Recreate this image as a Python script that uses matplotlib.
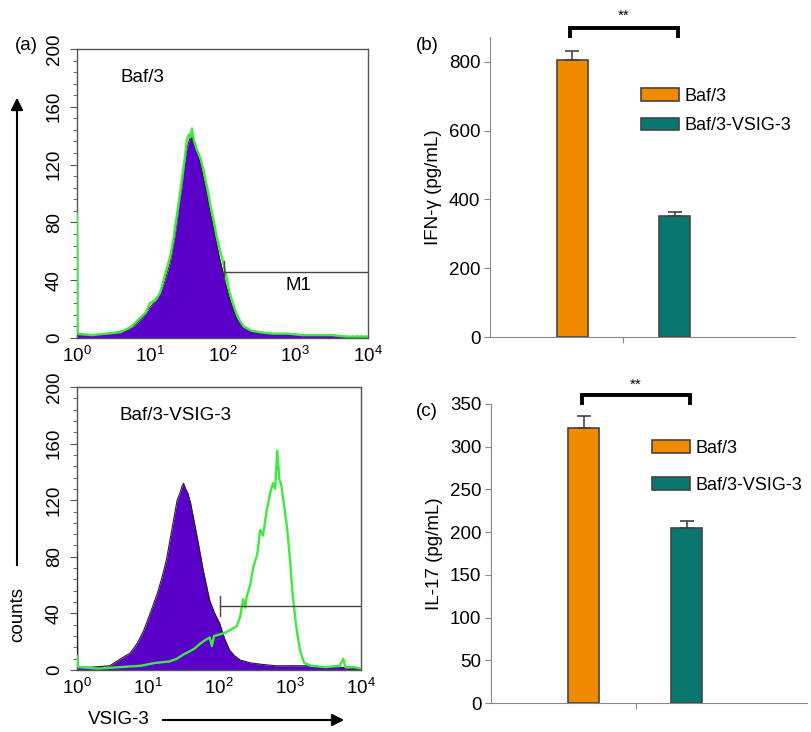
import numpy as np
import matplotlib
matplotlib.use("Agg")
import matplotlib.pyplot as plt
from matplotlib.patches import FancyArrowPatch, Patch

plt.rcParams['font.family'] = ['Liberation Sans', 'DejaVu Sans']

#flow cytometry histograms (log10 of VSIG-3 intensity, counts)
top_purple_log = [0.0, 0.02, 0.2, 0.4, 0.55, 0.7, 0.8, 0.9, 1.0, 1.1, 1.2, 1.28, 1.33, 1.37, 1.41, 1.44,
                  1.48, 1.51, 1.55, 1.58, 1.6, 1.62, 1.66, 1.7, 1.74, 1.78, 1.83, 1.88, 1.92, 1.96, 2.0,
                  2.05, 2.1, 2.15, 2.19, 2.24, 2.29, 2.4, 2.5, 2.7, 2.9, 3.1, 3.3, 3.5, 3.7, 3.9, 4.0]
top_purple_cnt = [2, 2, 2, 3, 4, 6, 9, 14, 21, 27, 38, 52, 66, 78, 95, 104,
                  122, 131, 138, 141, 134, 136, 127, 120, 110, 101, 87, 76, 65, 55, 47,
                  36, 27, 20, 14, 10, 7, 5, 4, 3, 3, 2, 2, 2, 1, 1, 1]

top_green_log = [0.0, 0.005, 0.01, 0.2, 0.4, 0.6, 0.75, 0.87, 0.95, 1.0, 1.07, 1.14, 1.2, 1.28, 1.33,
                 1.37, 1.41, 1.44, 1.48, 1.51, 1.54, 1.56, 1.58, 1.61, 1.65, 1.7, 1.74, 1.79, 1.83,
                 1.88, 1.92, 1.97, 2.01, 2.06, 2.1, 2.15, 2.19, 2.24, 2.29, 2.4, 2.52, 2.7, 2.9, 3.1,
                 3.3, 3.5, 3.7, 3.9, 4.0]
top_green_cnt = [86, 60, 3, 2, 3, 4, 8, 14, 18, 24, 26, 31, 42, 56, 70,
                 84, 98, 109, 124, 137, 141, 139, 145, 136, 130, 124, 116, 104, 93,
                 81, 70, 60, 52, 41, 31, 23, 17, 12, 8, 5, 4, 3, 3, 2, 2, 2, 1, 1, 1]

bot_purple_log = [0.0, 0.003, 0.01, 0.2, 0.46, 0.65, 0.75, 0.85, 0.94, 1.03, 1.13, 1.2, 1.26, 1.31,
                  1.36, 1.41, 1.45, 1.48, 1.5, 1.53, 1.56, 1.6, 1.65, 1.7, 1.78, 1.87, 1.94, 2.01,
                  2.08, 2.15, 2.22, 2.3, 2.45, 2.6, 2.8, 3.0, 3.3, 3.5, 3.7, 3.9, 4.0]
bot_purple_cnt = [83, 60, 2, 2, 3, 9, 12, 19, 28, 40, 54, 66, 78, 92,
                  106, 120, 125, 130, 132, 128, 125, 118, 105, 92, 70, 49, 40, 33,
                  22, 14, 10, 7, 5, 4, 3, 3, 3, 2, 2, 1, 1]

bot_green_log = [0.0, 0.005, 0.02, 0.3, 0.6, 0.9, 1.1, 1.3, 1.41, 1.5, 1.58, 1.65, 1.72, 1.8, 1.87,
                 1.9, 1.93, 2.0, 2.07, 2.15, 2.25, 2.3, 2.34, 2.37, 2.39, 2.44, 2.48, 2.54, 2.58,
                 2.62, 2.67, 2.72, 2.76, 2.79, 2.82, 2.85, 2.88, 2.92, 2.96, 3.0, 3.04, 3.09,
                 3.14, 3.2, 3.3, 3.5, 3.7, 3.75, 3.78, 3.9, 4.0]
bot_green_cnt = [10, 4, 2, 1, 2, 3, 5, 6, 8, 11, 13, 15, 18, 21, 23,
                 17, 24, 25, 26, 28, 31, 38, 50, 44, 52, 60, 72, 82, 99,
                 95, 112, 125, 132, 128, 155, 135, 130, 115, 100, 78, 52, 30,
                 14, 5, 3, 2, 3, 8, 2, 2, 1]

#cytokine bars
groups = ["Baf/3", "Baf/3-VSIG-3"]
ifn_mean = [805, 352]
ifn_err = [25, 11]
il17_mean = [322, 205]
il17_err = [14, 8]

orange = "#F28A00"
teal = "#08776F"
purple = "#5A00C8"
green = "#3CEB3C"
fs = 13.5

W, H = 811, 732
fig = plt.figure(figsize=(W / 100, H / 100), dpi=100)

def px(l, t, r, b):
    return [l / W, 1 - b / H, (r - l) / W, (b - t) / H]

def hist_panel(rect, plog, pcnt, glog, gcnt, label, m1_x, m1_y, m1_text=None):
    ax = fig.add_axes(rect)
    px_ = 10 ** np.array(plog)
    gx_ = 10 ** np.array(glog)
    ax.fill_between(px_, 0, pcnt, color=purple, lw=0, zorder=2)
    ax.plot(px_, pcnt, color="#222222", lw=0.8, zorder=3)
    ax.plot(gx_, gcnt, color=green, lw=1.7, zorder=4)
    ax.plot([m1_x, 1e4], [m1_y, m1_y], color="#444444", lw=1.0, zorder=5)
    ax.plot([m1_x, m1_x], [m1_y - 7, m1_y + 7], color="#444444", lw=1.0, zorder=5)
    if m1_text:
        ax.text(10 ** 3.05, m1_y - 10, m1_text, fontsize=fs, ha="center", va="center")
    ax.set_xscale("log")
    ax.set_xlim(1, 1e4)
    ax.set_ylim(0, 200)
    ax.set_yticks(range(0, 201, 40))
    ax.set_yticks(range(0, 201, 8), minor=True)
    ax.tick_params(axis="y", which="major", direction="out", length=5, labelsize=fs,
                   labelrotation=90, pad=5, color="#555555")
    ax.tick_params(axis="y", which="minor", direction="out", length=3, color="#555555")
    ax.tick_params(axis="x", which="both", direction="in", labelsize=fs, pad=6,
                   color="#555555")
    for lab in ax.get_yticklabels():
        lab.set_va("center")
    for s in ax.spines.values():
        s.set_color("#555555")
        s.set_linewidth(1.0)
    ax.text(0.15, 0.9, label, transform=ax.transAxes, fontsize=fs, ha="left", va="center")
    return ax

hist_panel(px(77, 49, 368, 338), top_purple_log, top_purple_cnt, top_green_log, top_green_cnt,
           "Baf/3", 10 ** 2.02, 46, "M1")
hist_panel(px(77, 387, 361, 670), bot_purple_log, bot_purple_cnt, bot_green_log, bot_green_cnt,
           "Baf/3-VSIG-3", 10 ** 2.01, 45)

def bar_panel(rect, means, errs, ylim, yticks, ylabel, xs, width, xtick, bracket, star_y,
              leg_anchor, leg_space):
    ax = fig.add_axes(rect)
    for x, m, e, c in zip(xs, means, errs, [orange, teal]):
        ax.bar(x, m, width=width, color=c, edgecolor="#444444", lw=1.2, zorder=2)
        ax.errorbar(x, m, yerr=[[0], [e]], color="#444444", capsize=5, lw=1.2, capthick=1.2,
                    zorder=3)
    ax.set_xlim(0, 1)
    ax.set_ylim(*ylim)
    ax.set_yticks(yticks)
    ax.set_xticks([xtick])
    ax.set_xticklabels([""])
    ax.tick_params(axis="both", direction="out", length=4, color="#888888", labelsize=fs)
    ax.tick_params(axis="y", pad=3)
    ax.spines["top"].set_visible(False)
    ax.spines["right"].set_visible(False)
    ax.spines["left"].set_color("#888888")
    ax.spines["bottom"].set_color("#888888")
    ax.set_ylabel(ylabel, fontsize=fs, labelpad=5)
    bx0, bx1, btop, bbot = bracket
    ax.plot([bx0, bx0, bx1, bx1], [bbot, btop, btop, bbot], color="black", lw=2.8,
            clip_on=False, solid_joinstyle="miter")
    ax.text((bx0 + bx1) / 2, star_y, "**", fontsize=11, ha="center", va="center")
    handles = [Patch(facecolor=orange, edgecolor="#444444", lw=1.2),
               Patch(facecolor=teal, edgecolor="#444444", lw=1.2)]
    ax.legend(handles, groups, loc="upper left", bbox_to_anchor=leg_anchor, frameon=False,
              fontsize=13, handlelength=2.1, handleheight=0.7, labelspacing=leg_space,
              handletextpad=0.3, borderaxespad=0, borderpad=0)
    return ax

bar_panel(px(490, 37, 795, 337), ifn_mean, ifn_err, (0, 872), range(0, 801, 200),
          "IFN-\u03b3 (pg/mL)", [0.27, 0.605], 0.102, 0.436,
          (0.262, 0.616, 899, 874), 934, (0.495, 0.83), 0.68)
bar_panel(px(491, 404, 807, 703), il17_mean, il17_err, (0, 350), range(0, 351, 50),
          "IL-17 (pg/mL)", [0.293, 0.619], 0.098, 0.459,
          (0.288, 0.630, 361, 351), 372, (0.51, 0.88), 1.12)

#panel letters
fig.text(15 / W, 1 - 46 / H, "(a)", fontsize=fs, ha="left", va="center")
fig.text(416 / W, 1 - 46 / H, "(b)", fontsize=fs, ha="left", va="center")
fig.text(416 / W, 1 - 411 / H, "(c)", fontsize=fs, ha="left", va="center")

#axis arrows
fig.add_artist(FancyArrowPatch((17 / W, 1 - 568 / H), (17 / W, 1 - 95 / H),
                               transform=fig.transFigure, arrowstyle="-|>", mutation_scale=18,
                               color="black", lw=1.5))
fig.text(18 / W, 1 - 614 / H, "counts", fontsize=fs, rotation=90, ha="center", va="center")
fig.add_artist(FancyArrowPatch((160 / W, 1 - 720 / H), (347 / W, 1 - 720 / H),
                               transform=fig.transFigure, arrowstyle="-|>", mutation_scale=18,
                               color="black", lw=1.5))
fig.text(119 / W, 1 - 720 / H, "VSIG-3", fontsize=fs, ha="center", va="center")

fig.savefig("out.png", dpi=100)
